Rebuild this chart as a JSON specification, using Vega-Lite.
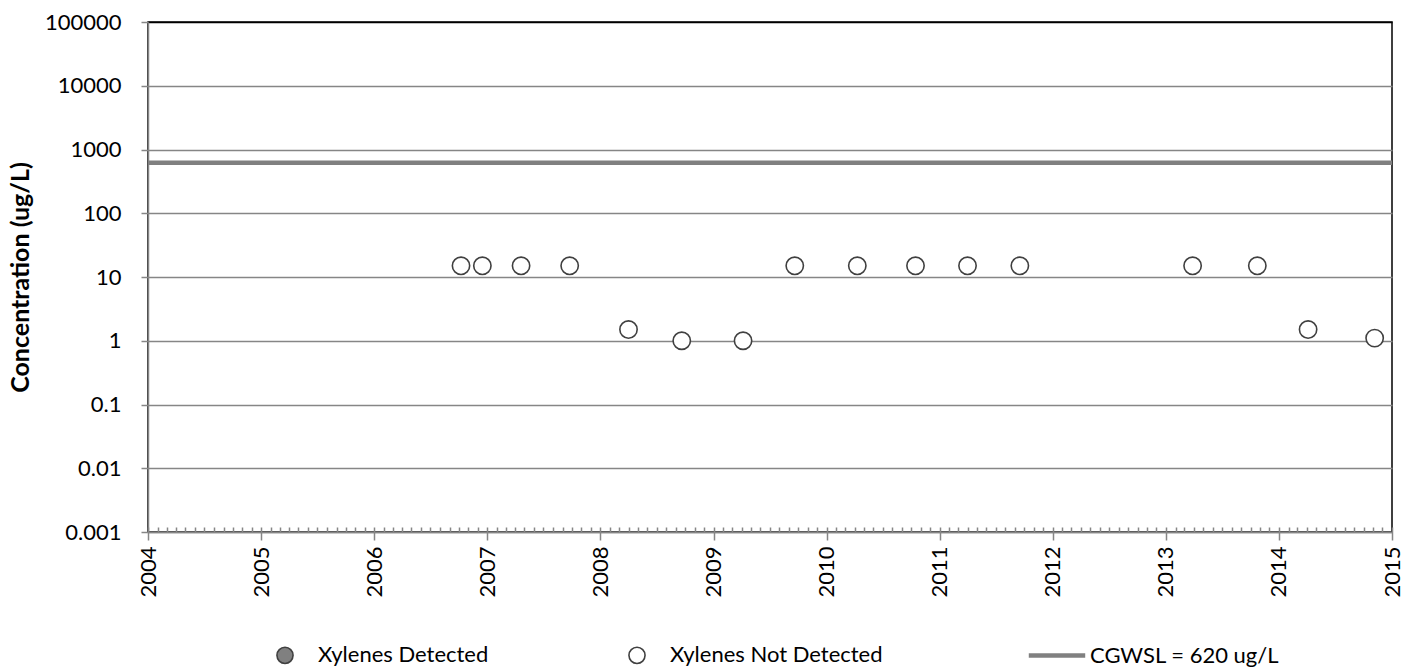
{
  "$schema": "https://vega.github.io/schema/vega-lite/v6.json",
  "autosize": {"type": "none"},
  "width": 1244,
  "height": 510,
  "padding": {"left": 148, "top": 22, "right": 27, "bottom": 139},
  "background": "white",
  "config": {
    "view": {"stroke": "black", "strokeWidth": 1.5},
    "font": "Lato"
  },
  "datasets": {
    "samples": [
      {"date": "2006-10-08", "value": 15, "series": "Xylenes Not Detected"},
      {"date": "2006-12-16", "value": 15, "series": "Xylenes Not Detected"},
      {"date": "2007-04-20", "value": 15, "series": "Xylenes Not Detected"},
      {"date": "2007-09-24", "value": 15, "series": "Xylenes Not Detected"},
      {"date": "2008-04-01", "value": 1.5, "series": "Xylenes Not Detected"},
      {"date": "2008-09-20", "value": 1, "series": "Xylenes Not Detected"},
      {"date": "2009-04-06", "value": 1, "series": "Xylenes Not Detected"},
      {"date": "2009-09-20", "value": 15, "series": "Xylenes Not Detected"},
      {"date": "2010-04-10", "value": 15, "series": "Xylenes Not Detected"},
      {"date": "2010-10-15", "value": 15, "series": "Xylenes Not Detected"},
      {"date": "2011-04-01", "value": 15, "series": "Xylenes Not Detected"},
      {"date": "2011-09-17", "value": 15, "series": "Xylenes Not Detected"},
      {"date": "2013-03-28", "value": 15, "series": "Xylenes Not Detected"},
      {"date": "2013-10-23", "value": 15, "series": "Xylenes Not Detected"},
      {"date": "2014-04-05", "value": 1.5, "series": "Xylenes Not Detected"},
      {"date": "2014-11-06", "value": 1.1, "series": "Xylenes Not Detected"}
    ],
    "standard": [
      {"label": "CGWSL = 620 ug/L", "value": 620}
    ]
  },
  "encoding": {
    "y": {
      "field": "value",
      "type": "quantitative",
      "scale": {"type": "log", "domain": [0.001, 100000], "nice": false},
      "axis": {
        "values": [0.001, 0.01, 0.1, 1, 10, 100, 1000, 10000, 100000],
        "format": "~g",
        "title": "Concentration (ug/L)",
        "titleFont": "Lato",
        "titleFontSize": 25,
        "titleFontWeight": "bold",
        "titleColor": "black",
        "titleX": -115,
        "titleY": 255,
        "titleAngle": 270,
        "titleBaseline": "bottom",
        "titleAlign": "center",
        "labelFont": "Lato",
        "labelFontSize": 22,
        "labelColor": "black",
        "labelPadding": 20,
        "tickSize": 7,
        "tickColor": "#868686",
        "tickWidth": 1.5,
        "domainColor": "#868686",
        "domainWidth": 1.5,
        "grid": true,
        "gridColor": {"condition": {"test": "datum.value >= 100000", "value": "black"}, "value": "#868686"},
        "gridWidth": 1.5
      }
    }
  },
  "layer": [
    {
      "data": {"name": "standard"},
      "mark": {"type": "rule", "color": "#808080", "strokeWidth": 4.5}
    },
    {
      "data": {"name": "samples"},
      "mark": {"type": "point", "opacity": 1, "fillOpacity": 1, "size": 300},
      "encoding": {
        "x": {
          "field": "date",
          "type": "temporal",
          "scale": {"type": "utc", "domain": [{"year": 2004, "month": 1, "date": 1, "utc": true}, {"year": 2015, "month": 1, "date": 1, "utc": true}], "nice": false},
          "axis": {
            "values": [
              {"year": 2004, "month": 1, "date": 1, "utc": true},
              {"year": 2005, "month": 1, "date": 1, "utc": true},
              {"year": 2006, "month": 1, "date": 1, "utc": true},
              {"year": 2007, "month": 1, "date": 1, "utc": true},
              {"year": 2008, "month": 1, "date": 1, "utc": true},
              {"year": 2009, "month": 1, "date": 1, "utc": true},
              {"year": 2010, "month": 1, "date": 1, "utc": true},
              {"year": 2011, "month": 1, "date": 1, "utc": true},
              {"year": 2012, "month": 1, "date": 1, "utc": true},
              {"year": 2013, "month": 1, "date": 1, "utc": true},
              {"year": 2014, "month": 1, "date": 1, "utc": true},
              {"year": 2015, "month": 1, "date": 1, "utc": true}
            ],
            "format": "%Y",
            "formatType": "utc",
            "title": null,
            "grid": false,
            "labelAngle": 270,
            "labelFont": "Lato",
            "labelFontSize": 22,
            "labelColor": "black",
            "labelPadding": 6,
            "labelFlush": false,
            "labelOverlap": false,
            "tickSize": 8,
            "tickColor": "#868686",
            "tickWidth": 1.5,
            "domainColor": "#868686",
            "domainWidth": 1.5
          }
        },
        "shape": {
          "field": "series",
          "type": "nominal",
          "scale": {"domain": ["Xylenes Detected", "Xylenes Not Detected", "CGWSL = 620 ug/L"], "range": ["circle", "circle", "M-3.5,0L3.5,0"]},
          "legend": {
            "title": null,
            "orient": "none",
            "direction": "horizontal",
            "columns": 3,
            "legendX": 126,
            "legendY": 622,
            "padding": 0,
            "columnPadding": 136,
            "labelOffset": 22,
            "labelLimit": 500,
            "labelFont": "Lato",
            "labelFontSize": 22,
            "labelColor": "black",
            "symbolSize": 260
          }
        },
        "fill": {
          "field": "series",
          "type": "nominal",
          "scale": {"domain": ["Xylenes Detected", "Xylenes Not Detected", "CGWSL = 620 ug/L"], "range": ["#808080", "#ffffff", "#808080"]}
        },
        "stroke": {
          "field": "series",
          "type": "nominal",
          "scale": {"domain": ["Xylenes Detected", "Xylenes Not Detected", "CGWSL = 620 ug/L"], "range": ["#404040", "#404040", "#808080"]}
        },
        "strokeWidth": {
          "field": "series",
          "type": "nominal",
          "scale": {"type": "ordinal", "domain": ["Xylenes Detected", "Xylenes Not Detected", "CGWSL = 620 ug/L"], "range": [1.6, 1.6, 4.5]}
        }
      }
    },
    {
      "data": {"name": "samples"},
      "mark": {"type": "point", "opacity": 0},
      "encoding": {
        "x": {
          "field": "date",
          "type": "temporal",
          "axis": {
            "orient": "top",
            "offset": -510,
            "tickCount": {"interval": "month", "step": 1},
            "labels": false,
            "domain": false,
            "grid": false,
            "title": null,
            "ticks": true,
            "tickSize": 5,
            "tickColor": "#868686",
            "tickWidth": 1.5
          }
        }
      }
    }
  ],
  "resolve": {"axis": {"x": "independent"}}
}
